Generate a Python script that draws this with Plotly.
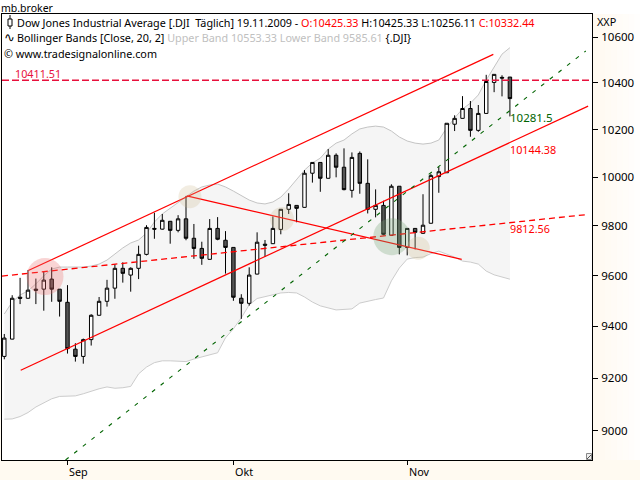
import math
import plotly.graph_objects as go

# daily bars, 0 = first visible session, Sep/Okt/Nov marks below
opens = [9283, 9350, 9514, 9510, 9546, 9546, 9586, 9546, 9494, 9311, 9283, 9348, 9443, 9498, 9550, 9629, 9602,
         9629, 9685, 9790, 9787, 9819, 9782, 9829, 9750, 9709, 9665, 9790, 9742, 9713, 9510, 9490, 9606, 9726,
         9728, 9786, 9868, 9884, 9876, 10017, 10062, 9996, 10092, 10042, 9946, 10100, 9975, 9868, 9884, 9762,
         9963, 9713, 9790, 9770, 9811, 10003, 10019, 10223, 10248, 10290, 10197, 10269, 10402, 10424, 10425.33]
highs = [9370, 9522, 9591, 9622, 9588, 9616, 9633, 9546, 9562, 9334, 9352, 9447, 9515, 9583, 9646, 9653, 9633,
         9720, 9803, 9854, 9849, 9820, 9844, 9923, 9808, 9736, 9828, 9836, 9779, 9713, 9526, 9633, 9774, 9743,
         9839, 9869, 9934, 9884, 10030, 10062, 10062, 10118, 10100, 10121, 10104, 10108, 10075, 9950, 9903, 9971,
         9963, 9790, 9790, 9930, 10014, 10044, 10227, 10261, 10343, 10322, 10305, 10435, 10437, 10433, 10425.33]
lows = [9272, 9349, 9487, 9508, 9487, 9461, 9496, 9438, 9294, 9263, 9255, 9325, 9442, 9477, 9508, 9572, 9536,
        9586, 9681, 9748, 9785, 9728, 9774, 9742, 9667, 9643, 9664, 9742, 9608, 9500, 9429, 9481, 9605, 9675,
        9727, 9766, 9849, 9815, 9875, 9978, 9940, 9995, 10000, 9946, 9916, 9932, 9851, 9835, 9762, 9761,
        9685, 9681, 9705, 9769, 9810, 9936, 10019, 10194, 10247, 10170, 10191, 10268, 10360, 10342, 10256.11]
closes = [9354, 9510, 9510, 9542, 9542, 9582, 9546, 9498, 9313, 9283, 9348, 9443, 9498, 9550, 9629, 9609, 9629,
          9685, 9794, 9787, 9823, 9782, 9829, 9750, 9709, 9669, 9790, 9746, 9713, 9514, 9490, 9602, 9734, 9722,
          9790, 9868, 9888, 9872, 10017, 10062, 9996, 10092, 10042, 9949, 10083, 9975, 9868, 9884, 9766, 9963,
          9713, 9790, 9774, 9803, 10007, 10023, 10227, 10248, 10290, 10197, 10269, 10406, 10437, 10421, 10332.44]
bars = list(range(len(closes)))

upper_band = [9448, 9495, 9523, 9539, 9567, 9599, 9626, 9634, 9634, 9634, 9634, 9638, 9646, 9662, 9686, 9711, 9731,
              9743, 9771, 9816, 9849, 9873, 9894, 9918, 9943, 9960, 9968, 9972, 9960, 9943, 9923, 9906, 9894, 9890,
              9898, 9918, 9952, 9993, 10030, 10060, 10080, 10118, 10143, 10156, 10182, 10203, 10211, 10215, 10211,
              10194, 10169, 10152, 10143, 10139, 10143, 10156, 10207, 10250, 10288, 10313, 10348, 10412, 10469,
              10525, 10553.33]
lower_band = [9044, 9045, 9054, 9069, 9090, 9106, 9121, 9130, 9130, 9132, 9140, 9151, 9159, 9166, 9161, 9163, 9168,
              9216, 9242, 9259, 9266, 9266, 9265, 9263, 9273, 9281, 9288, 9297, 9355, 9390, 9433, 9484, 9509, 9517,
              9525, 9531, 9533, 9531, 9515, 9495, 9480, 9472, 9464, 9466, 9468, 9491, 9499, 9505, 9511, 9579, 9630,
              9666, 9672, 9674, 9688, 9698, 9686, 9674, 9658, 9654, 9646, 9618, 9603, 9593, 9585.61]

# drawn trend lines: two bars, two prices
channel_top_x, channel_top_y = [3.04, 61.9], [9620, 10524]
channel_low_x, channel_low_y = [2.08, 73.9], [9230, 10300]
falling_x, falling_y = [23.09, 57.9], [9923, 9665]
support_x, support_y = [-0.29, 73.9], [9598, 9847]
green_x, green_y = [7.75, 73.6], [8892, 10539]
resistance_x, resistance_y = [-0.29, 74.39], [10411.51, 10411.51]

# highlighted spots on the chart
spot_x = [5.15, 23.5, 35.15, 49.04, 52.4]
spot_y = [9596, 9920, 9828, 9756, 9710]
spot_size = [37, 23, 24, 37, 23]
spot_color = ["rgba(235,110,110,0.42)", "rgba(205,185,140,0.36)", "rgba(205,185,140,0.36)",
              "rgba(120,165,120,0.44)", "rgba(205,185,140,0.40)"]

price_ticks = [10600, 10400, 10200, 10000, 9800, 9600, 9400, 9200, 9000]
month_ticks = [8, 29, 51]
month_names = ["Sep", "Okt", "Nov"]

upper_last = upper_band[-1]
lower_last = lower_band[-1]

FONT = "Noto Sans"
TEXT_SIZE = 10.8
RED = "#ff0000"
DASH_RED = "#e8103c"
GREEN = "#006400"
y_range = [math.log10(8892), math.log10(10702)]
x_range = [-0.29, 74.39]


# pixel position to paper fraction
def px(x):
    return (x - 2) / 590.0


def py(y):
    return (460 - y) / 446.0


fig = go.Figure()

fig.add_trace(go.Scatter(x=bars, y=lower_band, mode="lines", line=dict(color="#cccccc", width=1), hoverinfo="skip"))
fig.add_trace(go.Scatter(x=bars, y=upper_band, mode="lines", line=dict(color="#c4c4c4", width=1),
                         fill="tonexty", fillcolor="#f5f5f5", hoverinfo="skip"))

fig.add_trace(go.Candlestick(x=bars, open=opens, high=highs, low=lows, close=closes, yaxis="y2",
                             whiskerwidth=0,
                             increasing=dict(line=dict(color="#000000", width=1), fillcolor="#ffffff"),
                             decreasing=dict(line=dict(color="#000000", width=1), fillcolor="#555555")))

for line_x, line_y, color, dash, width in [
    (channel_top_x, channel_top_y, RED, "solid", 1.2),
    (channel_low_x, channel_low_y, RED, "solid", 1.2),
    (falling_x, falling_y, RED, "solid", 1.2),
    (support_x, support_y, RED, "6px,4px", 1.3),
    (green_x, green_y, GREEN, "4px,7px", 1.1),
    (resistance_x, resistance_y, DASH_RED, "7px,3px", 1.3),
]:
    fig.add_trace(go.Scatter(x=line_x, y=line_y, mode="lines", yaxis="y2", hoverinfo="skip",
                             line=dict(color=color, width=width, dash=dash)))

fig.add_trace(go.Scatter(x=spot_x, y=spot_y, mode="markers", yaxis="y2", hoverinfo="skip",
                         marker=dict(size=spot_size, color=spot_color, line=dict(width=0))))

fig.update_layout(
    width=640, height=480, showlegend=False, autosize=False,
    margin=dict(l=2, r=48, t=14, b=20, pad=0),
    paper_bgcolor="#fffaf1", plot_bgcolor="#ffffff",
    font=dict(family=FONT, size=TEXT_SIZE, color="#000000"),
    boxgap=0.38,
    xaxis=dict(range=x_range, rangeslider=dict(visible=False), showgrid=False, zeroline=False,
               tickmode="array", tickvals=month_ticks, ticktext=[""] * 3, ticks="outside", ticklen=4,
               tickcolor="#000000", showline=True, linecolor="#000000", linewidth=1, mirror=True),
    yaxis=dict(type="log", range=y_range, side="right", showgrid=False, zeroline=False,
               tickmode="array", tickvals=price_ticks, ticktext=[str(p) for p in price_ticks],
               ticks="outside", ticklen=5, tickcolor="#000000", ticklabelstandoff=1,
               tickfont=dict(family=FONT, size=11.5), showline=True, linecolor="#000000", linewidth=1, mirror=True),
    yaxis2=dict(type="log", range=y_range, overlaying="y", side="right", visible=False),
)

# strips around the chart: white title bar, cream fading to the right
shapes = [dict(type="rect", xref="paper", yref="paper", layer="below", x0=px(0), x1=px(640), y0=py(14), y1=py(0),
               fillcolor="#ffffff", line=dict(width=0))]
steps = 8
for s in range(steps):
    shade = 241 + s * 14 // steps
    shapes.append(dict(type="rect", xref="paper", yref="paper", layer="below",
                       x0=px(593 + s * 47 / steps), x1=px(593 + (s + 1) * 47 / steps), y0=py(460), y1=py(14),
                       fillcolor=f"rgb(255,{250 + s * 5 // steps},{shade})", line=dict(width=0)))
# candle glyph of the title line
shapes.append(dict(type="line", xref="paper", yref="paper", x0=px(10), x1=px(10), y0=py(15), y1=py(29),
                   line=dict(color="#000000", width=1)))
shapes.append(dict(type="rect", xref="paper", yref="paper", x0=px(8), x1=px(12), y0=py(19), y1=py(26),
                   fillcolor="#ffffff", line=dict(color="#000000", width=1)))
# resize handle in the corner
shapes.append(dict(type="rect", xref="paper", yref="paper", x0=px(586.5), x1=px(591.5), y0=py(459.5), y1=py(453.5),
                   fillcolor="#eeeeee", line=dict(color="#888888", width=1)))
shapes.append(dict(type="line", xref="paper", yref="paper", x0=px(587), x1=px(591), y0=py(459), y1=py(455),
                   line=dict(color="#555555", width=1)))
fig.update_layout(shapes=shapes)

title_line = ("Dow Jones Industrial Average [.DJI&nbsp;&nbsp;Täglich] 19.11.2009 - "
              f"<span style='color:{RED}'>O:{opens[-1]}</span> H:{highs[-1]} L:{lows[-1]} "
              f"<span style='color:{RED}'>C:{closes[-1]}</span>")
band_line = ("Bollinger Bands [Close, 20, 2] "
             f"<span style='color:#c0c0c0'>Upper Band {upper_last} Lower Band {lower_last}</span> {{.DJI}}")


def note(text, x, y, color="#000000", size=TEXT_SIZE, family=FONT):
    fig.add_annotation(text=text, xref="paper", yref="paper", x=px(x), y=py(y), xanchor="left", yanchor="middle",
                       showarrow=False, align="left", borderpad=0, borderwidth=0,
                       font=dict(family=family, size=size, color=color))


note("mb.broker", 1, 8, size=10.5)
note(title_line, 17, 22)
note("∿", 4, 37, size=13, family="DejaVu Sans")
note(band_line, 17, 37)
note("© www.tradesignalonline.com", 4, 53)
note("XXP", 597, 21)
note("10411.51", 15, 73)
fig.layout.annotations[-1].font.color = DASH_RED
note("10281.5", 510, 117, color=GREEN, size=11.5)
note("10144.38", 510, 149, color=RED)
note("9812.56", 510, 229, color=RED)
for tick, name in zip(month_ticks, month_names):
    fig.add_annotation(text=name, xref="x", yref="paper", x=tick, y=py(471), xanchor="left", yanchor="middle",
                       showarrow=False, font=dict(family=FONT, size=TEXT_SIZE, color="#000000"))

fig.write_html("out.html", config=dict(displayModeBar=False),
               post_script="document.body.style.margin='0';document.body.style.overflow='hidden';")
